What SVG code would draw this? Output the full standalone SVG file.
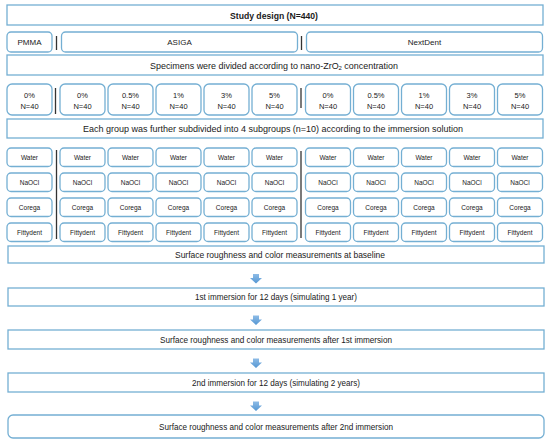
<svg xmlns="http://www.w3.org/2000/svg" width="550" height="445" viewBox="0 0 550 445">
<defs>
<style>
.bx{fill:#ffffff;stroke:#74afd3;stroke-width:1.3}
.t{font-family:"Liberation Sans",Arial,sans-serif;fill:#1a1a1a;text-anchor:middle;dominant-baseline:central}
.big{font-size:9px}
.mid{font-size:8px}
.pct{font-size:7.5px}
.sm{font-size:6.5px}
.dv{stroke:#333;stroke-width:1.3}
</style>
<linearGradient id="ag" x1="0" y1="0" x2="0" y2="1"><stop offset="0" stop-color="#8dbbe6"/><stop offset="1" stop-color="#5597d3"/></linearGradient>
</defs>
<rect width="550" height="445" fill="#fff"/>

<g id="title"><rect class="bx" x="7" y="5" width="536" height="20"/><text class="t" x="274" y="15.5" font-size="9" font-weight="bold" textLength="88" lengthAdjust="spacingAndGlyphs">Study design  (N=440)</text></g>

<g id="pmma"><rect class="bx" x="7" y="32" width="45" height="20" rx="4"/><text class="t mid" x="29.5" y="42.5">PMMA</text></g>
<g id="asiga"><rect class="bx" x="61.5" y="32" width="236" height="20" rx="4"/><text class="t mid" x="179.5" y="42.5">ASIGA</text></g>
<g id="nextdent"><rect class="bx" x="306.5" y="32" width="236" height="20" rx="4"/><text class="t mid" x="424.5" y="42.5">NextDent</text></g>

<g id="specimens"><rect class="bx" x="7" y="55" width="536" height="20"/><text class="t big" x="274" y="65.5" textLength="248" lengthAdjust="spacingAndGlyphs">Specimens were divided according to nano-ZrO<tspan font-size="6" dy="2">2</tspan><tspan dy="-2"> concentration</tspan></text></g>

<g id="conc">
<g id="c-pmma-0"><rect class="bx" x="7" y="84" width="45" height="31" rx="5"/><text class="t pct" x="29.5" y="95">0%</text><text class="t pct" x="29.5" y="106">N=40</text></g>
<g id="c-asiga-0"><rect class="bx" x="60" y="84" width="45" height="31" rx="5"/><text class="t pct" x="82.5" y="95">0%</text><text class="t pct" x="82.5" y="106">N=40</text></g>
<g id="c-asiga-05"><rect class="bx" x="108" y="84" width="45" height="31" rx="5"/><text class="t pct" x="130.5" y="95">0.5%</text><text class="t pct" x="130.5" y="106">N=40</text></g>
<g id="c-asiga-1"><rect class="bx" x="156" y="84" width="45" height="31" rx="5"/><text class="t pct" x="178.5" y="95">1%</text><text class="t pct" x="178.5" y="106">N=40</text></g>
<g id="c-asiga-3"><rect class="bx" x="204" y="84" width="45" height="31" rx="5"/><text class="t pct" x="226.5" y="95">3%</text><text class="t pct" x="226.5" y="106">N=40</text></g>
<g id="c-asiga-5"><rect class="bx" x="252" y="84" width="45" height="31" rx="5"/><text class="t pct" x="274.5" y="95">5%</text><text class="t pct" x="274.5" y="106">N=40</text></g>
<g id="c-nd-0"><rect class="bx" x="305.5" y="84" width="45" height="31" rx="5"/><text class="t pct" x="328" y="95">0%</text><text class="t pct" x="328" y="106">N=40</text></g>
<g id="c-nd-05"><rect class="bx" x="353.5" y="84" width="45" height="31" rx="5"/><text class="t pct" x="376" y="95">0.5%</text><text class="t pct" x="376" y="106">N=40</text></g>
<g id="c-nd-1"><rect class="bx" x="401.5" y="84" width="45" height="31" rx="5"/><text class="t pct" x="424" y="95">1%</text><text class="t pct" x="424" y="106">N=40</text></g>
<g id="c-nd-3"><rect class="bx" x="449.5" y="84" width="45" height="31" rx="5"/><text class="t pct" x="472" y="95">3%</text><text class="t pct" x="472" y="106">N=40</text></g>
<g id="c-nd-5"><rect class="bx" x="497.5" y="84" width="45" height="31" rx="5"/><text class="t pct" x="520" y="95">5%</text><text class="t pct" x="520" y="106">N=40</text></g>
</g>

<g id="subdivide"><rect class="bx" x="7" y="119" width="536" height="19"/><text class="t big" x="273" y="129" textLength="380" lengthAdjust="spacingAndGlyphs">Each group was further subdivided into 4 subgroups (n=10) according to the immersion solution</text></g>

<g id="solutions">
<g id="sol-pmma">
<rect class="bx" x="7" y="148" width="45" height="18.5" rx="4"/><text class="t sm" x="29.5" y="157.3">Water</text>
<rect class="bx" x="7" y="173" width="45" height="18.5" rx="4"/><text class="t sm" x="29.5" y="182.3">NaOCl</text>
<rect class="bx" x="7" y="198" width="45" height="18.5" rx="4"/><text class="t sm" x="29.5" y="207.3">Corega</text>
<rect class="bx" x="7" y="223" width="45" height="18.5" rx="4"/><text class="t sm" x="29.5" y="232.3">Fittydent</text>
</g>
<g id="sol-asiga-0">
<rect class="bx" x="60" y="148" width="45" height="18.5" rx="4"/><text class="t sm" x="82.5" y="157.3">Water</text>
<rect class="bx" x="60" y="173" width="45" height="18.5" rx="4"/><text class="t sm" x="82.5" y="182.3">NaOCl</text>
<rect class="bx" x="60" y="198" width="45" height="18.5" rx="4"/><text class="t sm" x="82.5" y="207.3">Corega</text>
<rect class="bx" x="60" y="223" width="45" height="18.5" rx="4"/><text class="t sm" x="82.5" y="232.3">Fittydent</text>
</g>
<g id="sol-asiga-05">
<rect class="bx" x="108" y="148" width="45" height="18.5" rx="4"/><text class="t sm" x="130.5" y="157.3">Water</text>
<rect class="bx" x="108" y="173" width="45" height="18.5" rx="4"/><text class="t sm" x="130.5" y="182.3">NaOCl</text>
<rect class="bx" x="108" y="198" width="45" height="18.5" rx="4"/><text class="t sm" x="130.5" y="207.3">Corega</text>
<rect class="bx" x="108" y="223" width="45" height="18.5" rx="4"/><text class="t sm" x="130.5" y="232.3">Fittydent</text>
</g>
<g id="sol-asiga-1">
<rect class="bx" x="156" y="148" width="45" height="18.5" rx="4"/><text class="t sm" x="178.5" y="157.3">Water</text>
<rect class="bx" x="156" y="173" width="45" height="18.5" rx="4"/><text class="t sm" x="178.5" y="182.3">NaOCl</text>
<rect class="bx" x="156" y="198" width="45" height="18.5" rx="4"/><text class="t sm" x="178.5" y="207.3">Corega</text>
<rect class="bx" x="156" y="223" width="45" height="18.5" rx="4"/><text class="t sm" x="178.5" y="232.3">Fittydent</text>
</g>
<g id="sol-asiga-3">
<rect class="bx" x="204" y="148" width="45" height="18.5" rx="4"/><text class="t sm" x="226.5" y="157.3">Water</text>
<rect class="bx" x="204" y="173" width="45" height="18.5" rx="4"/><text class="t sm" x="226.5" y="182.3">NaOCl</text>
<rect class="bx" x="204" y="198" width="45" height="18.5" rx="4"/><text class="t sm" x="226.5" y="207.3">Corega</text>
<rect class="bx" x="204" y="223" width="45" height="18.5" rx="4"/><text class="t sm" x="226.5" y="232.3">Fittydent</text>
</g>
<g id="sol-asiga-5">
<rect class="bx" x="252" y="148" width="45" height="18.5" rx="4"/><text class="t sm" x="274.5" y="157.3">Water</text>
<rect class="bx" x="252" y="173" width="45" height="18.5" rx="4"/><text class="t sm" x="274.5" y="182.3">NaOCl</text>
<rect class="bx" x="252" y="198" width="45" height="18.5" rx="4"/><text class="t sm" x="274.5" y="207.3">Corega</text>
<rect class="bx" x="252" y="223" width="45" height="18.5" rx="4"/><text class="t sm" x="274.5" y="232.3">Fittydent</text>
</g>
<g id="sol-nd-0">
<rect class="bx" x="305.5" y="148" width="45" height="18.5" rx="4"/><text class="t sm" x="328" y="157.3">Water</text>
<rect class="bx" x="305.5" y="173" width="45" height="18.5" rx="4"/><text class="t sm" x="328" y="182.3">NaOCl</text>
<rect class="bx" x="305.5" y="198" width="45" height="18.5" rx="4"/><text class="t sm" x="328" y="207.3">Corega</text>
<rect class="bx" x="305.5" y="223" width="45" height="18.5" rx="4"/><text class="t sm" x="328" y="232.3">Fittydent</text>
</g>
<g id="sol-nd-05">
<rect class="bx" x="353.5" y="148" width="45" height="18.5" rx="4"/><text class="t sm" x="376" y="157.3">Water</text>
<rect class="bx" x="353.5" y="173" width="45" height="18.5" rx="4"/><text class="t sm" x="376" y="182.3">NaOCl</text>
<rect class="bx" x="353.5" y="198" width="45" height="18.5" rx="4"/><text class="t sm" x="376" y="207.3">Corega</text>
<rect class="bx" x="353.5" y="223" width="45" height="18.5" rx="4"/><text class="t sm" x="376" y="232.3">Fittydent</text>
</g>
<g id="sol-nd-1">
<rect class="bx" x="401.5" y="148" width="45" height="18.5" rx="4"/><text class="t sm" x="424" y="157.3">Water</text>
<rect class="bx" x="401.5" y="173" width="45" height="18.5" rx="4"/><text class="t sm" x="424" y="182.3">NaOCl</text>
<rect class="bx" x="401.5" y="198" width="45" height="18.5" rx="4"/><text class="t sm" x="424" y="207.3">Corega</text>
<rect class="bx" x="401.5" y="223" width="45" height="18.5" rx="4"/><text class="t sm" x="424" y="232.3">Fittydent</text>
</g>
<g id="sol-nd-3">
<rect class="bx" x="449.5" y="148" width="45" height="18.5" rx="4"/><text class="t sm" x="472" y="157.3">Water</text>
<rect class="bx" x="449.5" y="173" width="45" height="18.5" rx="4"/><text class="t sm" x="472" y="182.3">NaOCl</text>
<rect class="bx" x="449.5" y="198" width="45" height="18.5" rx="4"/><text class="t sm" x="472" y="207.3">Corega</text>
<rect class="bx" x="449.5" y="223" width="45" height="18.5" rx="4"/><text class="t sm" x="472" y="232.3">Fittydent</text>
</g>
<g id="sol-nd-5">
<rect class="bx" x="497.5" y="148" width="45" height="18.5" rx="4"/><text class="t sm" x="520" y="157.3">Water</text>
<rect class="bx" x="497.5" y="173" width="45" height="18.5" rx="4"/><text class="t sm" x="520" y="182.3">NaOCl</text>
<rect class="bx" x="497.5" y="198" width="45" height="18.5" rx="4"/><text class="t sm" x="520" y="207.3">Corega</text>
<rect class="bx" x="497.5" y="223" width="45" height="18.5" rx="4"/><text class="t sm" x="520" y="232.3">Fittydent</text>
</g>
</g>

<g id="dividers">
<line class="dv" x1="56.5" y1="36" x2="56.5" y2="50"/>
<line class="dv" x1="301.5" y1="36" x2="301.5" y2="50"/>
<line class="dv" x1="55.5" y1="88" x2="55.5" y2="114"/>
<line class="dv" x1="301" y1="88" x2="301" y2="108"/>
<line class="dv" x1="56.5" y1="150" x2="56.5" y2="239"/>
<line class="dv" x1="301" y1="151" x2="301" y2="238"/>
</g>

<g id="baseline"><rect class="bx" x="8" y="246" width="536" height="17"/><text class="t big" x="280" y="254.5" textLength="210" lengthAdjust="spacingAndGlyphs">Surface roughness and color measurements at  baseline</text></g>
<g id="imm1"><rect class="bx" x="8" y="288" width="536" height="18"/><text class="t big" x="276" y="297" textLength="162" lengthAdjust="spacingAndGlyphs">1st immersion for 12 days (simulating 1 year)</text></g>
<g id="after1"><rect class="bx" x="8" y="330" width="536" height="19"/><text class="t big" x="276" y="339.5" textLength="232" lengthAdjust="spacingAndGlyphs">Surface roughness and color measurements after 1st immersion</text></g>
<g id="imm2"><rect class="bx" x="8" y="373" width="536" height="19"/><text class="t big" x="276" y="382.5" textLength="168" lengthAdjust="spacingAndGlyphs">2nd immersion for 12 days (simulating 2 years)</text></g>
<g id="after2"><rect class="bx" x="8" y="415" width="536" height="23" rx="5"/><text class="t big" x="276" y="426.5" textLength="234" lengthAdjust="spacingAndGlyphs">Surface roughness and color measurements after 2nd immersion</text></g>

<g id="connectors">
<path fill="url(#ag)" d="M253,274 H259 V278 H262 L256,283.5 L250,278 H253 Z"/>
<path fill="url(#ag)" d="M253,315.5 H259 V319.5 H262 L256,325 L250,319.5 H253 Z"/>
<path fill="url(#ag)" d="M253,358.5 H259 V362.5 H262 L256,368 L250,362.5 H253 Z"/>
<path fill="url(#ag)" d="M253,401.5 H259 V405.5 H262 L256,411 L250,405.5 H253 Z"/>
</g>
</svg>
